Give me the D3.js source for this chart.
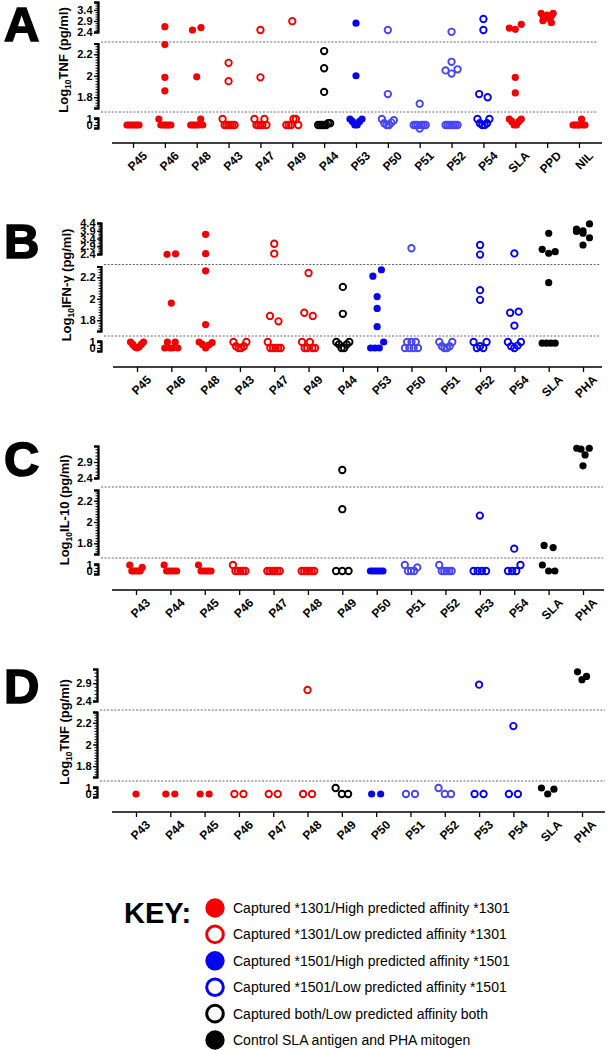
<!DOCTYPE html>
<html>
<head>
<meta charset="utf-8">
<script src="https://cdn.jsdelivr.net/npm/d3@7"></script>
<style>
  body { margin: 0; background: #fff; }
  svg text { font-family: "Liberation Sans", Arial, sans-serif; fill: #000; }
</style>
</head>
<body>
<svg id="fig" width="608" height="1050"></svg>
<script>
// ---- data (log10 pg/ml) ----
const catsA = ['P45','P46','P48','P43','P47','P49','P44','P53','P50','P51','P52','P54','SLA','PPD','NIL'];
const groupsA = ['h1301','h1301','h1301','l1301','l1301','l1301','both','h1501','l1501','l1501','l1501','l1501','h1301','h1301','h1301'];
const tnfA = [
  [0,0,0,0,0,0,0],
  [2.64,2.29,1.985,1.86, 1,0,0,0,0,0,0],
  [2.49,2.6,1.99, 0,0,0,0,0,1,0],
  [2.12,1.95, 1,0,0,0,0,0,0],
  [2.49,1.985, 1,0,0,0,0,1,0],
  [2.89, 0,0,0,1,1,0],
  [2.23,2.07,1.85, 0,0,0,0,0,0.3,0.3],
  [2.8,2.0, 1,0.6,0,0,0.6,1],
  [2.49,1.83, 1,0.3,0,0,0.4,0.8],
  [1.74, 0,0,0,-0.6,0,0,0],
  [2.41,2.13,2.05,2.02,2.06, 0,0,0,0,0,0,0],
  [2.99,2.49,1.83,1.80, 1,0.3,0,0,0.3,1],
  [2.58,2.52,2.75,1.985,1.84, 1,0.6,0,0,0.6,1],
  [3.25,3.1,3.02,3.17,3.02,3.1,3.25,2.91,2.82],
  [0,0,0,0,0,1,0,0]
];

const catsB = ['P45','P46','P48','P43','P47','P49','P44','P53','P50','P51','P52','P54','SLA','PHA'];
const groupsB = ['h1301','h1301','h1301','l1301','l1301','l1301','both','h1501','l1501','l1501','l1501','l1501','ctrl','ctrl'];
const ifnB = [
  [1,0.6,0.2,0,0.2,0.6,1],
  [2.38,2.41,1.96, 0,1,0,0,1,0],
  [3.67,2.42,2.26,1.76, 1,0.6,0,0.5,0.9],
  [1,0.3,0,0,0.3,1],
  [3.06,2.42,1.84,1.79, 1,0,0,0,0,0],
  [2.24,1.87,1.84, 1,0,0,1,0,0],
  [2.11,1.86, 1,0.6,0,0,0.6,1],
  [2.21,2.27,2.02,1.91,1.74, 0,0,0,1],
  [2.77, 0,1,0,1,0,1,0],
  [1,0.3,0,0,0.3,1],
  [2.98,2.36,2.08,1.99, 1,0,0.3,0,1],
  [2.44,1.87,1.88,1.75, 1,0.3,0,0.4,1],
  [3.74,2.7,2.45,2.55,2.15, 0.8,0.8,0.8,0.8],
  [4.0,3.9,4.34,3.85,3.74,3.45,2.98]
];

const catsC = ['P43','P44','P45','P46','P47','P48','P49','P50','P51','P52','P53','P54','SLA','PHA'];
const groupsC = ['h1301','h1301','h1301','l1301','l1301','l1301','both','h1501','l1501','l1501','l1501','l1501','ctrl','ctrl'];
const il10C = [
  [1,0,0,0,0,0,0.6],
  [1,0,0,0,0,0],
  [1,0,0,0,0,0],
  [1,0,0,0,0,0],
  [0,0,0,0,0,0],
  [0,0,0,0,0,0],
  [2.65,2.12, 0,0,0],
  [0,0,0,0,0,0],
  [1,0,0,0,0.6],
  [1,0,0,0,0,0],
  [2.06, 0,0,0,0],
  [1.75, 0,0,0,1],
  [1.78,1.76, 1,0,0],
  [3.33,3.3,3.12,3.33,2.78]
];

const catsD = catsC;
const groupsD = groupsC;
const tnfD = [
  [0],
  [0,0],
  [0,0],
  [0,0],
  [0,0],
  [2.71, 0,0],
  [1,0,0],
  [0,0],
  [0,0],
  [1,0,0],
  [2.86, 0,0],
  [2.17, 0,0],
  [1,0,0.8],
  [3.22,3.09,3.0]
];

const keyGroups = ['h1301','l1301','h1501','l1501','both','ctrl'];
const keyLabels = [
  'Captured *1301/High predicted affinity *1301',
  'Captured *1301/Low predicted affinity *1301',
  'Captured *1501/High predicted affinity *1501',
  'Captured *1501/Low predicted affinity *1501',
  'Captured both/Low predicted affinity both',
  'Control SLA antigen and PHA mitogen'
];

// ---- styles ----
const RED = '#f50000', BLUE = '#0606ee', PALE = '#4848f2', BLACK = '#000';
const groupStyle = {
  h1301: {color: RED, filled: true},
  l1301: {color: RED, filled: false},
  h1501: {color: BLUE, filled: true},
  l1501: {color: BLUE, filled: false},
  both:  {color: BLACK, filled: false},
  ctrl:  {color: BLACK, filled: true}
};

const svg = d3.select('#fig');

const panels = [
  {letter: 'A', cats: catsA, groups: groupsA, values: tnfA, cyto: 'TNF', pale: ['P50','P51','P52'],
   letterY: 41, axisX: 98, xRange: [133, 579], xAxisY: 143, xLine: [112, 602], dashX1: 598,
   top: {domain: [2.4, 3.76], range: [32, 2], ticks: [2.4, 2.9, 3.4]},
   mid: {range: [108, 43.5]}, bot: {range: [128, 117.8]},
   dash: [42, 112], titleX: 68, titleY: 60, sp0: 8.5, maxSpan: 12},
  {letter: 'B', cats: catsB, groups: groupsB, values: ifnB, cyto: 'IFN-\u03b3', pale: ['P50','P51'],
   letterY: 258, axisX: 101, xRange: [137, 583], xAxisY: 367, xLine: [113, 602], dashX1: 600,
   top: {domain: [2.4, 4.4], range: [254, 223], ticks: [2.4, 2.9, 3.4, 3.9, 4.4]},
   mid: {range: [331, 266.5]}, bot: {range: [351, 340.8]},
   dash: [264.5, 336], titleX: 71, titleY: 285, sp0: 8.5, maxSpan: 13},
  {letter: 'C', cats: catsC, groups: groupsC, values: il10C, cyto: 'IL-10', pale: ['P51','P52'],
   letterY: 476, axisX: 98, xRange: [136, 583], xAxisY: 590, xLine: [112, 604], dashX1: 603,
   top: {domain: [2.4, 3.4], range: [478, 446], ticks: [2.4, 2.9]},
   mid: {range: [554, 490]}, bot: {range: [574, 563.8]},
   dash: [487, 558], titleX: 69, titleY: 510, sp0: 9, maxSpan: 12.5},
  {letter: 'D', cats: catsD, groups: groupsD, values: tnfD, cyto: 'TNF', pale: ['P51','P52'],
   letterY: 703, axisX: 97, xRange: [136, 582], xAxisY: 812, xLine: [112, 605], dashX1: 605,
   top: {domain: [2.4, 3.3], range: [701, 669], ticks: [2.4, 2.9]},
   mid: {range: [777, 712]}, bot: {range: [797, 786.8]},
   dash: [710, 781], titleX: 69, titleY: 732, sp0: 9, maxSpan: 12.5}
];

// spread points of one column sideways where they would overlap
function layoutColumn(vals, yOf, sp0, maxSpan) {
  const pts = vals.map((v, i) => ({v, i, y: yOf(v)}));
  const bins = [];
  pts.slice().sort((a, b) => a.y - b.y).forEach(p => {
    const last = bins[bins.length - 1];
    if (last && p.y - last[0].y < 7) last.push(p); else bins.push([p]);
  });
  bins.forEach(b => {
    b.sort((a, c) => a.i - c.i);
    const n = b.length;
    const sp = n > 1 ? Math.min(sp0, maxSpan / (n - 1)) : 0;
    b.forEach((p, k) => p.dx = (k - (n - 1) / 2) * sp);
  });
  return pts;
}

function styleAxis(g) {
  g.selectAll('path').attr('stroke', '#000').attr('stroke-width', 1.8);
  g.selectAll('line').attr('stroke', '#000').attr('stroke-width', 1.3);
  g.selectAll('text').attr('font-size', 11).attr('font-weight', 'bold')
    .attr('font-family', '"Liberation Sans", Arial, sans-serif').attr('fill', '#000');
}

panels.forEach(p => {
  const g = svg.append('g');

  const yTop = d3.scaleLinear().domain(p.top.domain).range(p.top.range);
  const yMid = d3.scaleLinear().domain([1.7, 2.3]).range(p.mid.range);
  const yBot = d3.scaleLinear().domain([-0.5, 1.2]).range(p.bot.range);
  const yOf = v => v >= 2.33 ? yTop(v) : (v >= 1.6 ? yMid(v) : yBot(v));

  const x = d3.scalePoint().domain(p.cats).range(p.xRange);

  // panel letter
  g.append('text').attr('x', 4).attr('y', p.letterY)
    .attr('font-size', 49).attr('font-weight', 'bold')
    .attr('stroke', '#000').attr('stroke-width', 1.6).text(p.letter);

  // y axis segments, minor ticks first
  const segs = [
    {s: yTop, major: p.top.ticks, minor: d3.range(p.top.domain[0], p.top.domain[1] + 1e-9, 0.1)},
    {s: yMid, major: [1.8, 2, 2.2], minor: d3.range(1.7, 2.3001, 0.025)},
    {s: yBot, major: [0, 1], minor: [-0.5, 0.5, 1.2]}
  ];
  segs.forEach(sg => {
    g.append('g').attr('transform', `translate(${p.axisX},0)`)
      .call(d3.axisLeft(sg.s).tickValues(sg.minor).tickSize(2.5).tickSizeOuter(4).tickFormat(''))
      .call(styleAxis)
      .selectAll('.tick line').attr('stroke-width', 1);
    g.append('g').attr('transform', `translate(${p.axisX},0)`)
      .call(d3.axisLeft(sg.s).tickValues(sg.major).tickSize(4).tickSizeOuter(4).tickPadding(1.5)
        .tickFormat(d => String(+d.toFixed(2))))
      .call(styleAxis);
  });

  // break lines
  g.selectAll('line.brk').data(p.dash).join('line').attr('class', 'brk')
    .attr('x1', p.axisX + 3).attr('x2', p.dashX1)
    .attr('y1', d => d).attr('y2', d => d)
    .attr('stroke', '#666').attr('stroke-width', 1).attr('stroke-dasharray', '2,1.6');

  // y title
  const t = g.append('text')
    .attr('transform', `translate(${p.titleX},${p.titleY}) rotate(-90)`)
    .attr('text-anchor', 'middle').attr('font-size', 13).attr('font-weight', 'bold');
  t.append('tspan').text('Log');
  t.append('tspan').attr('font-size', 8.5).attr('dy', 3).text('10');
  t.append('tspan').attr('dy', -3).text(p.cyto + ' (pg/ml)');

  // x axis
  const xa = g.append('g').attr('transform', `translate(0,${p.xAxisY})`)
    .call(d3.axisBottom(x).tickSize(5).tickSizeOuter(0));
  xa.select('.domain').remove();
  xa.append('line').attr('x1', p.xLine[0]).attr('x2', p.xLine[1])
    .attr('stroke', '#000').attr('stroke-width', 1.8);
  xa.call(styleAxis);
  xa.selectAll('.tick text')
    .attr('text-anchor', 'end').attr('font-size', 12)
    .attr('transform', 'translate(5,4) rotate(-45)')
    .attr('dy', '0.7em').attr('y', 5);

  // points
  p.cats.forEach((c, ci) => {
    const st = groupStyle[p.groups[ci]];
    let col = st.color;
    if (col === BLUE && p.pale.includes(c)) col = PALE;
    const pts = layoutColumn(p.values[ci], yOf, p.sp0, p.maxSpan);
    g.append('g').selectAll('circle').data(pts).join('circle')
      .attr('cx', d => x(c) + d.dx)
      .attr('cy', d => d.y)
      .attr('r', st.filled ? 3.6 : 3.2)
      .attr('fill', st.filled ? col : 'none')
      .attr('stroke', st.filled ? 'none' : col)
      .attr('stroke-width', 1.9);
  });
});

// key
const key = svg.append('g');
key.append('text').attr('x', 124).attr('y', 923)
  .attr('font-size', 29).attr('font-weight', 'bold').text('KEY:');
const ky = d3.scalePoint().domain(keyGroups).range([908, 1040]);
keyGroups.forEach((k, i) => {
  const st = groupStyle[k];
  key.append('circle').attr('cx', 215).attr('cy', ky(k))
    .attr('r', st.filled ? 9.7 : 8.3)
    .attr('fill', st.filled ? st.color : 'none')
    .attr('stroke', st.filled ? 'none' : st.color).attr('stroke-width', 3);
  key.append('text').attr('x', 233).attr('y', ky(k) + 5)
    .attr('font-size', 14).attr('fill', '#111').text(keyLabels[i]);
});
</script>
</body>
</html>
